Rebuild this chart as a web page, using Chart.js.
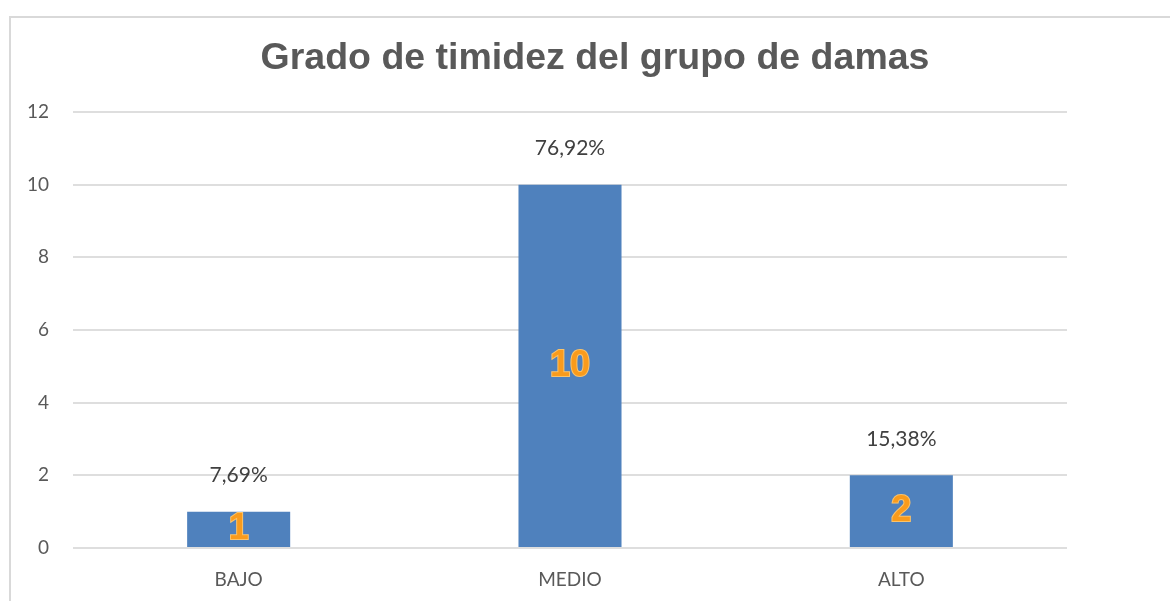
<!DOCTYPE html>
<html>
<head>
<meta charset="utf-8">
<script src="https://cdn.jsdelivr.net/npm/chart.js@4"></script>
<style>
  body { margin: 0; background: #fff; overflow: hidden; }
  #frame { position: absolute; left: 9px; top: 16px; width: 1200px; height: 700px;
           border-left: 2px solid #d9d9d9; border-top: 2px solid #d9d9d9; }
  #wrap { position: absolute; left: 0; top: 0; width: 1170px; height: 601px; }
</style>
</head>
<body>
<div id="frame"></div>
<div id="wrap"><canvas id="grafico" width="1170" height="601"></canvas></div>
<script>
/* ---------- datos ---------- */
const categorias = ["BAJO", "MEDIO", "ALTO"];
const cantidades = [1, 10, 2];
const porcentajes = ["7,69%", "76,92%", "15,38%"];
const titulo = "Grado de timidez del grupo de damas";

/* ---------- titulo centrado en el marco completo ---------- */
const tituloPlugin = {
  id: "tituloMarco",
  afterDraw(chart) {
    const ctx = chart.ctx;
    ctx.save();
    ctx.font = "bold 37.5px 'Liberation Sans'";
    ctx.fillStyle = "#595959";
    ctx.textAlign = "center";
    ctx.textBaseline = "alphabetic";
    ctx.fillText(titulo, 595, 69);
    ctx.restore();
  },
};

/* ---------- etiquetas sobre / dentro de las barras ---------- */
const etiquetasPlugin = {
  id: "etiquetas",
  afterDatasetsDraw(chart) {
    const ctx = chart.ctx;
    const meta = chart.getDatasetMeta(0);
    meta.data.forEach((bar, i) => {
      // porcentaje arriba de la barra
      ctx.save();
      ctx.font = "21px Lato";
      ctx.fillStyle = "#404040";
      ctx.textAlign = "center";
      ctx.textBaseline = "middle";
      ctx.fillText(porcentajes[i], bar.x, bar.y - 36);
      // cantidad dentro de la barra
      const yMid = (bar.y + bar.base) / 2;
      ctx.font = "bold 36px 'Liberation Sans'";
      ctx.lineWidth = 2;
      ctx.strokeStyle = "#FBC36A";
      ctx.strokeText(String(cantidades[i]), bar.x, yMid);
      ctx.fillStyle = "#F99B1C";
      ctx.fillText(String(cantidades[i]), bar.x, yMid);
      ctx.restore();
    });
  },
};

new Chart(document.getElementById("grafico"), {
  type: "bar",
  plugins: [etiquetasPlugin, tituloPlugin],
  data: {
    labels: categorias,
    datasets: [{
      data: cantidades,
      backgroundColor: "#4F81BD",
      categoryPercentage: 1,
      barPercentage: 0.311,
    }],
  },
  options: {
    responsive: false,
    animation: false,
    layout: { padding: { left: 0, right: 103, top: 112, bottom: 0 } },
    plugins: {
      legend: { display: false },
      tooltip: { enabled: false },
      title: { display: false },
    },
    scales: {
      x: {
        grid: { display: false, drawTicks: false },
        border: { display: false },
        ticks: { color: "#595959", font: { family: "Lato", size: 19 }, padding: 20 },
        afterFit(scale) { scale.height = 53; },
      },
      y: {
        min: 0,
        max: 12,
        ticks: { stepSize: 2, color: "#595959", font: { family: "Lato", size: 19 }, padding: 24 },
        grid: { color: "#dedede", lineWidth: 2, drawTicks: false },
        border: { display: false },
        afterFit(scale) { scale.width = 73; },
      },
    },
  },
});
</script>
</body>
</html>
